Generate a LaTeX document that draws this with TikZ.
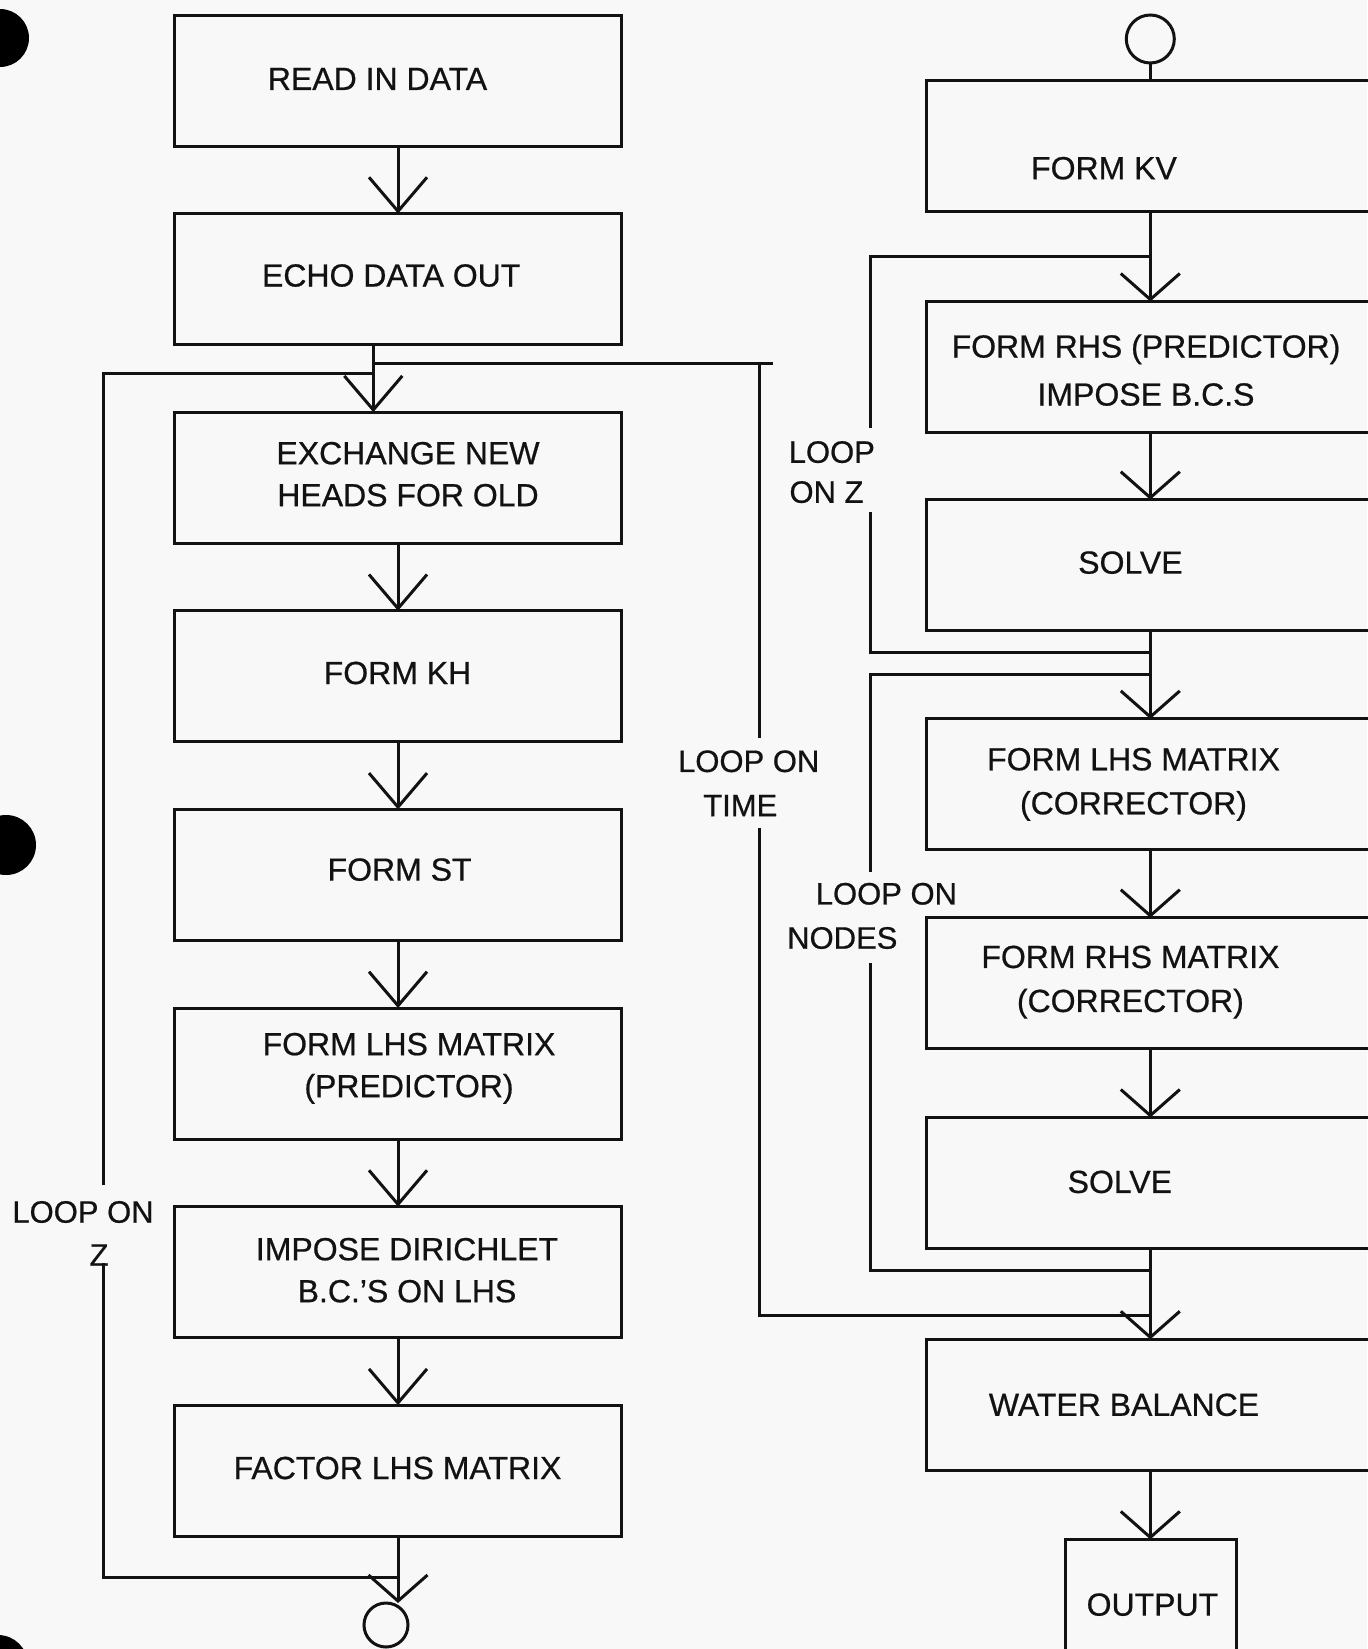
\documentclass[tikz,border=0pt]{standalone}
\usepackage{fontspec}
\setmainfont{Liberation Sans}[FakeBold=0.6]
\usetikzlibrary{arrows.meta}
\definecolor{ink}{RGB}{18,18,18}
\definecolor{paper}{RGB}{248,248,248}
\begin{document}
\begin{tikzpicture}[x=0.5pt,y=-0.5pt,
  line/.style={draw=ink, line width=1.5pt},
  lbox/.style={draw=ink, line width=1.5pt, minimum width=223.5pt, minimum height=65.5pt, inner sep=0pt, outer sep=0pt},
  rbox/.style={lbox, minimum width=236.8pt},
  txt/.style={font=\fontsize{16}{21}\selectfont, align=center, inner sep=0pt, text=ink},
  lab/.style={font=\fontsize{15.5}{19}\selectfont, inner sep=0pt, text=ink},
  arrL/.style={line, -{Straight Barb[length=17pt,width=29pt]}},
  arrR/.style={line, -{Straight Barb[length=13pt,width=29.5pt]}},
  term/.style={draw=ink, line width=1.5pt, circle, inner sep=0pt, outer sep=0pt}]
\fill[paper, use as bounding box] (0,0) rectangle (1367,1649);

% hole punches
\fill[black] (0,38) circle[radius=14.5pt];
\fill[black] (6,845) circle[radius=15pt];
\fill[black] (-2,1665) circle[radius=15pt];

% left column boxes
\node[lbox] (b1) at (398,80.5) {};
\node[lbox] (b2) at (398,279.1) {};
\node[lbox] (b3) at (398,477.7) {};
\node[lbox] (b4) at (398,676.3) {};
\node[lbox] (b5) at (398,874.9) {};
\node[lbox] (b6) at (398,1073.5) {};
\node[lbox] (b7) at (398,1272.1) {};
\node[lbox] (b8) at (398,1470.7) {};

% right column boxes
\node[rbox] (kv) at (1163.2,146.2) {};
\node[rbox] (rhs) at (1163.2,367.0) {};
\node[rbox] (s1) at (1163.2,565.2) {};
\node[rbox] (lhs) at (1163.2,784.4) {};
\node[rbox] (rhsc) at (1163.2,983.2) {};
\node[rbox] (s2) at (1163.2,1183.0) {};
\node[rbox] (wb) at (1163.2,1404.8) {};
\node[lbox, minimum width=85.7pt, minimum height=80pt] (out) at (1150.9,1619.4) {};

% terminals
\node[term, minimum size=24pt] (ct) at (1150.3,39) {};
\node[term, minimum size=22pt] (cb) at (386,1625) {};

% texts
\node[txt] (t1) at (377.5,78.9) {READ IN DATA};
\node[txt] (t2) at (391.2,275.5) {ECHO DATA OUT};
\node[txt] (t3) at (408,474.2) {EXCHANGE NEW\\HEADS FOR OLD};
\node[txt] (t4) at (397.5,673) {FORM KH};
\node[txt] (t5) at (399.6,869.6) {FORM ST};
\node[txt] (t6) at (409,1068.3) {FORM LHS MATRIX\\(PREDICTOR)};
\node[txt] (t7) at (407,1270.2) {IMPOSE DIRICHLET\\B.C.'S ON LHS};
\node[txt] (t8) at (397.5,1468) {FACTOR LHS MATRIX};

\node[txt] (tkv) at (1104,168.2) {FORM KV};
\node[txt, font=\fontsize{16}{24}\selectfont] (trhs) at (1146,370.1) {FORM RHS (PREDICTOR)\\IMPOSE B.C.S};
\node[txt] (ts1) at (1130.4,562.6) {SOLVE};
\node[txt, font=\fontsize{16}{22}\selectfont] (tlhs) at (1133.5,784.4) {FORM LHS MATRIX\\(CORRECTOR)};
\node[txt, font=\fontsize{16}{22}\selectfont] (trhsc) at (1130.4,982.1) {FORM RHS MATRIX\\(CORRECTOR)};
\node[txt] (ts2) at (1119.8,1181.9) {SOLVE};
\node[txt] (twb) at (1124,1404.8) {WATER BALANCE};
\node[txt] (tout) at (1152.4,1604.6) {OUTPUT};

% loop labels
\node[lab] (l1a) at (83,1212) {LOOP ON};
\node[lab] (l1b) at (99,1255) {Z};
\node[lab] (l2a) at (748.7,761.3) {LOOP ON};
\node[lab] (l2b) at (740.3,805.5) {TIME};
\node[lab] (l3a) at (831.8,452.1) {LOOP};
\node[lab] (l3b) at (826.5,492.1) {ON Z};
\node[lab] (l4a) at (886.4,893.8) {LOOP ON};
\node[lab] (l4b) at (842.3,938) {NODES};

% helper coordinates
\coordinate (rc) at (1150.3,0);
\coordinate (lx) at (373.3,0);

% left main flow
\draw[arrL] (b1.south) -- (b2.north);
\draw[arrL] (b2.south -| lx) -- (b3.north -| lx);
\draw[arrL] (b3.south) -- (b4.north);
\draw[arrL] (b4.south) -- (b5.north);
\draw[arrL] (b5.south) -- (b6.north);
\draw[arrL] (b6.south) -- (b7.north);
\draw[arrL] (b7.south) -- (b8.north);
\draw[arrR] (b8.south) -- (b8.south |- cb.north);

% right main flow
\draw[line] (ct.south) -- (kv.north -| rc);
\draw[arrR] (kv.south -| rc) -- (rhs.north -| rc);
\draw[arrR] (rhs.south -| rc) -- (s1.north -| rc);
\draw[arrR] (s1.south -| rc) -- (lhs.north -| rc);
\draw[arrR] (lhs.south -| rc) -- (rhsc.north -| rc);
\draw[arrR] (rhsc.south -| rc) -- (s2.north -| rc);
\draw[arrR] (s2.south -| rc) -- (wb.north -| rc);
\draw[arrR] (wb.south -| rc) -- (out.north -| rc);

% loop on Z (left)
\coordinate (lzt) at (103,373.3);
\coordinate (lzg1) at (103,1185);
\coordinate (lzg2) at (103,1263);
\coordinate (lzb) at (103,1577.3);
\draw[line] (lzg1) -- (lzt) -- (lzt -| lx);
\draw[line] (lzg2) -- (lzb) -- (lzb -| b8.south);

% loop on time
\coordinate (ltt) at (759.2,363.8);
\coordinate (lte) at (772.9,363.8);
\coordinate (ltg1) at (759.2,738);
\coordinate (ltg2) at (759.2,827.5);
\coordinate (ltb) at (759.2,1315.5);
\draw[line] (ltt -| lx) -- (lte);
\draw[line] (ltt) -- (ltg1);
\draw[line] (ltg2) -- (ltb) -- (ltb -| rc);

% loop on Z (right)
\coordinate (rzt) at (870.6,256.6);
\coordinate (rzg1) at (870.6,428);
\coordinate (rzg2) at (870.6,512);
\coordinate (rzb) at (870.6,652);
\draw[line] (rzt -| rc) -- (rzt) -- (rzg1);
\draw[line] (rzg2) -- (rzb) -- (rzb -| rc);

% loop on nodes
\coordinate (rnt) at (870.6,674);
\coordinate (rng1) at (870.6,871.7);
\coordinate (rng2) at (870.6,963);
\coordinate (rnb) at (870.6,1270.2);
\draw[line] (rnt -| rc) -- (rnt) -- (rng1);
\draw[line] (rng2) -- (rnb) -- (rnb -| rc);
\end{tikzpicture}
\end{document}
